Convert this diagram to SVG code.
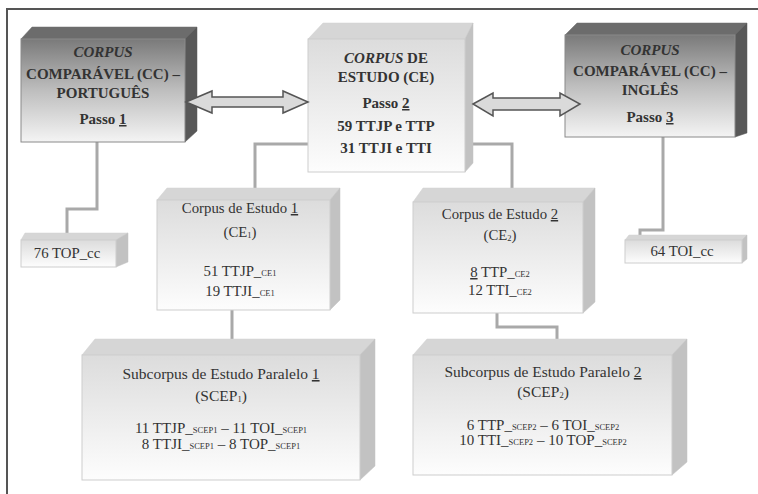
<svg xmlns="http://www.w3.org/2000/svg" width="758" height="494" viewBox="0 0 758 494" font-family="'Liberation Serif', 'DejaVu Serif', serif">
<defs>
<linearGradient id="gDark" x1="0" y1="0" x2="0" y2="1">
<stop offset="0" stop-color="#7a7a7a"/>
<stop offset="0.5" stop-color="#bebebe"/>
<stop offset="1" stop-color="#f4f4f4"/>
</linearGradient>
<linearGradient id="gLight" x1="0" y1="0" x2="0" y2="1">
<stop offset="0" stop-color="#dcdcdc"/>
<stop offset="1" stop-color="#fdfdfd"/>
</linearGradient>
</defs>
<style>
.frame{fill:none;stroke:#555;stroke-width:2}
.conn{fill:none;stroke:#a9a9a9;stroke-width:3}
.dFront{fill:url(#gDark);stroke:#8a8a8a;stroke-width:1}
.dTop{fill:#6c6c6c;stroke:#6c6c6c;stroke-width:0.5}
.dSide{fill:#585858;stroke:#585858;stroke-width:0.5}
.lFront{fill:url(#gLight);stroke:#cdcdcd;stroke-width:1}
.lTop{fill:#d6d6d6;stroke:#d0d0d0;stroke-width:0.5}
.lSide{fill:#c2c2c2;stroke:#c2c2c2;stroke-width:0.5}
.arrow{fill:#dadada;stroke:#555;stroke-width:1.5;stroke-linejoin:miter}
text{font-family:'Liberation Serif','DejaVu Serif',serif;fill:#333;text-anchor:middle}
.t{font-size:15px;font-weight:bold}
.b{font-size:14.8px}
.sb{font-size:15.5px}
.s{font-size:15px}
.sub{font-size:8.5px}
.i{font-style:italic}
.u{text-decoration:underline}
</style>
<rect width="758" height="494" fill="#ffffff"/>
<path class="frame" d="M7,494 V9 H758"/>

<g id="connectors">
<path class="conn" d="M97,142 V209 H67 V233"/>
<path class="conn" d="M308,144 H255 V190"/>
<path class="conn" d="M465,144 H512 V190"/>
<path class="conn" d="M663,137 V230 H640 V236"/>
<path class="conn" d="M232,310 V340"/>
<path class="conn" d="M497,313 V327 H557 V340"/>
</g>

<g id="cc-pt">
<polygon class="dTop" points="21,39 32,27 197,27 185,39"/>
<polygon class="dSide" points="185,39 197,27 197,131 185,142"/>
<rect class="dFront" x="21" y="39" width="164" height="103"/>
<text class="t" x="103" y="57"><tspan class="i">CORPUS</tspan></text>
<text class="t" x="103" y="79">COMPARÁVEL (CC) –</text>
<text class="t" x="103" y="98">PORTUGUÊS</text>
<text class="t" x="103" y="124">Passo <tspan class="u">1</tspan></text>
</g>

<g id="ce">
<polygon class="lTop" points="308,39 323,23 473,23 465,39"/>
<polygon class="lSide" points="465,39 473,23 473,163 465,172"/>
<rect class="lFront" x="308" y="39" width="157" height="133"/>
<text class="t" x="386" y="63"><tspan class="i">CORPUS</tspan> DE</text>
<text class="t" x="386" y="82">ESTUDO (CE)</text>
<text class="t" x="386" y="108">Passo <tspan class="u">2</tspan></text>
<text class="t" x="386" y="131">59 TTJP e TTP</text>
<text class="t" x="386" y="153">31 TTJI e TTI</text>
</g>

<g id="cc-en">
<polygon class="dTop" points="565,35 577,23 747,23 735,35"/>
<polygon class="dSide" points="735,35 747,23 747,133 735,137"/>
<rect class="dFront" x="565" y="35" width="170" height="102"/>
<text class="t" x="650" y="55"><tspan class="i">CORPUS</tspan></text>
<text class="t" x="650" y="76">COMPARÁVEL (CC) –</text>
<text class="t" x="650" y="95">INGLÊS</text>
<text class="t" x="650" y="122">Passo <tspan class="u">3</tspan></text>
</g>

<g id="arrows">
<polygon class="arrow" points="186,102 212,91 212,97 283,97 283,91 308,102 283,113 283,107 212,107 212,113"/>
<polygon class="arrow" points="473,104 493,93 493,98 560,98 560,93 580,104 560,116 560,110 493,110 493,116"/>
</g>

<g id="top-cc">
<polygon class="lTop" points="21,240 25,233 128,233 116,240"/>
<polygon class="lSide" points="116,240 128,233 128,262 116,267"/>
<rect class="lFront" x="21" y="240" width="95" height="27"/>
<text class="b" x="67" y="258">76 TOP_cc</text>
</g>

<g id="toi-cc">
<polygon class="lTop" points="625,240 629,235 747,235 742,240"/>
<polygon class="lSide" points="742,240 747,235 747,259 742,263"/>
<rect class="lFront" x="625" y="240" width="117" height="23"/>
<text class="b" x="682" y="256">64 TOI_cc</text>
</g>

<g id="ce1">
<polygon class="lTop" points="157,200 167,188 340,188 330,200"/>
<polygon class="lSide" points="330,200 340,188 340,300 330,310"/>
<rect class="lFront" x="157" y="200" width="173" height="110"/>
<text class="b" x="240" y="213">Corpus de Estudo <tspan class="u">1</tspan></text>
<text class="b" x="240" y="237">(CE<tspan class="sub" dy="1">1</tspan><tspan dy="-1">)</tspan></text>
<text class="b" x="240" y="276">51 TTJP_<tspan class="sub">CE1</tspan></text>
<text class="b" x="240" y="296">19 TTJI_<tspan class="sub">CE1</tspan></text>
</g>

<g id="ce2">
<polygon class="lTop" points="413,202 423,188 595,188 583,202"/>
<polygon class="lSide" points="583,202 595,188 595,302 583,313"/>
<rect class="lFront" x="413" y="202" width="170" height="111"/>
<text class="b" x="500" y="219">Corpus de Estudo <tspan class="u">2</tspan></text>
<text class="b" x="500" y="240">(CE<tspan class="sub" dy="1">2</tspan><tspan dy="-1">)</tspan></text>
<text class="b" x="500" y="277"><tspan class="u">8</tspan> TTP_<tspan class="sub">CE2</tspan></text>
<text class="b" x="500" y="295">12 TTI_<tspan class="sub">CE2</tspan></text>
</g>

<g id="scep1">
<polygon class="lTop" points="82,355 95,339 375,339 360,355"/>
<polygon class="lSide" points="360,355 375,339 375,466 360,480"/>
<rect class="lFront" x="82" y="355" width="278" height="125"/>
<text class="sb" x="221" y="379">Subcorpus de Estudo Paralelo <tspan class="u">1</tspan></text>
<text class="sb" x="221" y="401">(SCEP<tspan class="sub" dy="1">1</tspan><tspan dy="-1">)</tspan></text>
<text class="s" x="221" y="433">11 TTJP_<tspan class="sub">SCEP1</tspan> – 11 TOI_<tspan class="sub">SCEP1</tspan></text>
<text class="s" x="221" y="449">8 TTJI_<tspan class="sub">SCEP1</tspan> – 8 TOP_<tspan class="sub">SCEP1</tspan></text>
</g>

<g id="scep2">
<polygon class="lTop" points="413,355 427,339 687,339 672,355"/>
<polygon class="lSide" points="672,355 687,339 687,462 672,475"/>
<rect class="lFront" x="413" y="355" width="259" height="120"/>
<text class="sb" x="543" y="377">Subcorpus de Estudo Paralelo <tspan class="u">2</tspan></text>
<text class="sb" x="543" y="397">(SCEP<tspan class="sub" dy="1">2</tspan><tspan dy="-1">)</tspan></text>
<text class="s" x="543" y="430">6 TTP_<tspan class="sub">SCEP2</tspan> – 6 TOI_<tspan class="sub">SCEP2</tspan></text>
<text class="s" x="543" y="445">10 TTI_<tspan class="sub">SCEP2</tspan> – 10 TOP_<tspan class="sub">SCEP2</tspan></text>
</g>
</svg>
